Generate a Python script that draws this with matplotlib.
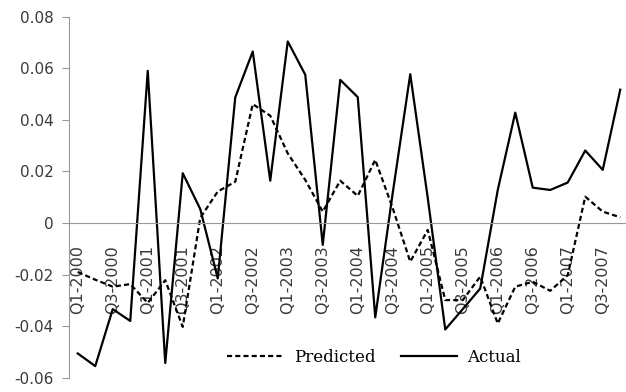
import matplotlib.pyplot as plt

# quarters Q1-2000 .. Q4-2007
quarters = [f'Q{q}-{y}' for y in range(2000, 2008) for q in range(1, 5)]
tick_labels = quarters[::2]

predicted = [-0.019, -0.022, -0.0247, -0.0237, -0.031, -0.0222, -0.0403, 0.002,
             0.0122, 0.016, 0.0461, 0.0416, 0.027, 0.0167, 0.0044, 0.0164,
             0.0105, 0.0245, 0.0057, -0.015, -0.0027, -0.0299, -0.0299, -0.0208,
             -0.039, -0.0247, -0.0228, -0.0263, -0.0202, 0.0102, 0.0044, 0.0022]
actual = [-0.0506, -0.0555, -0.0334, -0.038, 0.059, -0.0543, 0.0193, 0.0054,
          -0.0215, 0.0487, 0.0665, 0.0164, 0.0704, 0.0575, -0.0085, 0.0555,
          0.0488, -0.0366, 0.0117, 0.0577, 0.0097, -0.0413, -0.0334, -0.0254,
          0.0128, 0.0428, 0.0137, 0.0128, 0.0157, 0.0281, 0.0206, 0.0517]

fig = plt.figure(figsize=(6.26, 3.92), dpi=100)
ax = fig.add_axes([69/626, 14.3/392, 560/626, 361/392])

x = range(len(quarters))
ax.plot(x, predicted, color='black', lw=1.6, ls=(0, (2.3, 1.4)), label='Predicted')
ax.plot(x, actual, color='black', lw=1.6, label='Actual')

# spines first: set_position resets the ticks
for s in ['top', 'right']:
    ax.spines[s].set_visible(False)
ax.spines['bottom'].set_position(('data', 0))
ax.spines['bottom'].set_color('#999999')
ax.spines['left'].set_color('#999999')

ax.tick_params(axis='x', length=0, pad=16)
ax.tick_params(axis='y', length=5, color='#999999', direction='out', pad=6)

ax.set_xlim(-0.5, len(quarters) - 0.5)
ax.set_ylim(-0.06, 0.08)
ax.set_yticks([-0.06, -0.04, -0.02, 0, 0.02, 0.04, 0.06, 0.08])
ax.set_yticklabels(['-0.06', '-0.04', '-0.02', '0', '0.02', '0.04', '0.06', '0.08'],
                   fontfamily='DejaVu Sans', fontsize=11, color='#3a3a3a')
ax.set_xticks(list(x)[::2])
ax.set_xticklabels(tick_labels, rotation=90, fontfamily='DejaVu Sans',
                   fontsize=11.5, color='#3a3a3a', va='top')

leg = ax.legend(loc='center', bbox_to_anchor=(0.545, 0.057), ncol=2, frameon=False,
                handlelength=3.4, handletextpad=0.6, columnspacing=1.5,
                prop={'family': 'DejaVu Serif', 'size': 12})

fig.savefig('out.png', dpi=100)
